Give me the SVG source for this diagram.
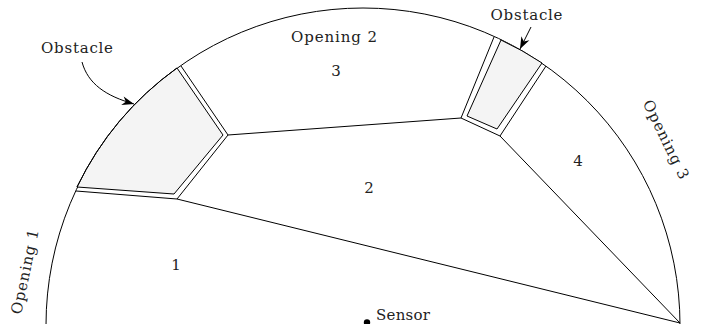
<svg xmlns="http://www.w3.org/2000/svg" width="708" height="324" viewBox="0 0 708 324">
<style>
.ln{fill:none;stroke:#000;stroke-width:1}
.obs{fill:#f4f4f4;stroke:#000;stroke-width:1;stroke-linejoin:miter}
.t{font-family:"DejaVu Serif","Liberation Serif",serif;font-size:15px;fill:#222;text-anchor:middle}
</style>
<defs>
<marker id="stealth" markerWidth="14" markerHeight="10" viewBox="-13 -5 14 10" refX="0" refY="0" orient="auto" markerUnits="userSpaceOnUse">
<path d="M0,0 L-12,-4.5 L-8.5,0 L-12,4.5 Z" fill="#000"/>
</marker>
</defs>
<rect width="708" height="324" fill="#fff"/>
<g id="boundary">
<circle class="ln" cx="363" cy="325" r="317"/>
</g>
<g id="obstacle1">
<path class="obs" d="M177,68 L223,135 L174,194 L77,187 A317,317 0 0,1 177,68 Z"/>
<polyline class="ln" points="181,66 228,135 177,199 76,191"/>
<path class="ln" d="M77,187 A317,317 0 0,1 177,68" stroke-width="1.6"/>
</g>
<g id="obstacle2">
<path class="obs" d="M501,40 L467,116 L497,129 L542,63 A317,317 0 0,0 501,40 Z"/>
<polyline class="ln" points="494,37 461,118 500,136 546,66"/>
</g>
<g id="connectors">
<line class="ln" x1="228" y1="135" x2="461" y2="118"/>
<line class="ln" x1="177" y1="199" x2="680" y2="323"/>
<line class="ln" x1="500" y1="136" x2="680" y2="323"/>
<path class="ln" d="M82,62 C88,84 106,96 134,104" marker-end="url(#stealth)"/>
<path class="ln" d="M531,27 L520,49" marker-end="url(#stealth)"/>
</g>
<g id="sensor">
<circle cx="367" cy="322.5" r="3.2" fill="#000"/>
<text class="t" x="376" y="320" style="text-anchor:start" textLength="54" lengthAdjust="spacing">Sensor</text>
</g>
<g id="labels">
<text class="t" x="77" y="53" textLength="72" lengthAdjust="spacing">Obstacle</text>
<text class="t" x="526.5" y="20" textLength="72" lengthAdjust="spacing">Obstacle</text>
<text class="t" x="334" y="41.5" textLength="86" lengthAdjust="spacing">Opening 2</text>
<text class="t" transform="translate(26,272) rotate(-78)" x="0" y="4" textLength="86" lengthAdjust="spacing">Opening 1</text>
<text class="t" transform="translate(665,140) rotate(64)" x="0" y="4" textLength="86" lengthAdjust="spacing">Opening 3</text>
<text class="t" x="176" y="270">1</text>
<text class="t" x="369" y="193">2</text>
<text class="t" x="336" y="76">3</text>
<text class="t" x="578" y="166">4</text>
</g>
</svg>
